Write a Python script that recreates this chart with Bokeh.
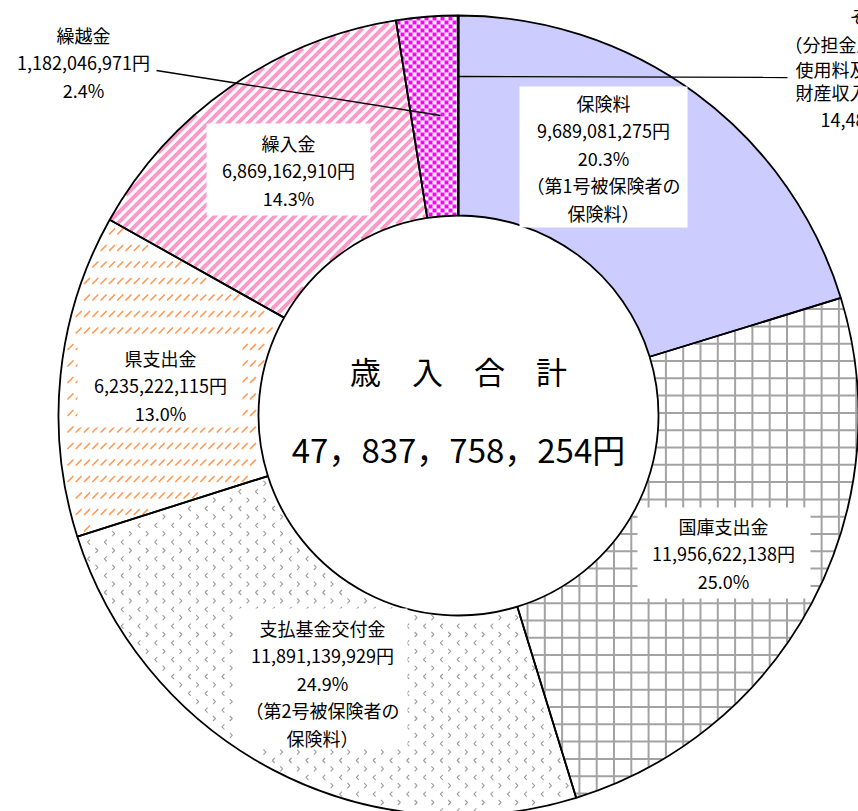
import numpy as np
from bokeh.plotting import figure
from bokeh.models import ColumnDataSource, Range1d
from bokeh.core.properties import value
from bokeh.embed import file_html
from bokeh.resources import INLINE

# ---------------- data ----------------
categories = ["保険料", "国庫支出金", "支払基金交付金", "県支出金", "繰入金", "繰越金", "その他"]
amounts = [9689081275, 11956622138, 11891139929, 6235222115, 6869162910, 1182046971, 14482916]
percent_labels = ["20.3%", "25.0%", "24.9%", "13.0%", "14.3%", "2.4%", "0.0%"]
notes = [["（第1号被保険者の", "保険料）"], [], ["（第2号被保険者の", "保険料）"], [], [], [], []]
other_detail = ["（分担金及び負担金、", "使用料及び手数料、", "財産収入、諸収入）"]
title_label = "歳　入　合　計"
total_label = "47，837，758，254円"

# ---------------- layout / style ----------------
W, H = 858, 811
CX, CY = 458, 415          # pixel centre of ring (y measured downwards)
R_IN, R_OUT = 200, 400
FONT = value("Noto Sans CJK JP")
LABEL_SIZE = "18px"


def Y(py):
    return H - np.asarray(py, dtype=float)


fill_colors = ["#CCCCFF", "white", "white", "white", "white", "white", "white"]

fracs = np.array(amounts, dtype=float) / float(sum(amounts))
cum = np.concatenate([[0.0], np.cumsum(fracs)])
start_ang = np.pi / 2 - 2 * np.pi * cum[:-1]
end_ang = np.pi / 2 - 2 * np.pi * cum[1:]


# ---------------- helpers for pattern fills (pixel space) ----------------
def inside_mask(i, px, py, margin=0.0):
    px = np.asarray(px, float)
    py = np.asarray(py, float)
    dx = px - CX
    dy = CY - py
    r = np.hypot(dx, dy)
    a = np.mod(np.arctan2(dx, dy), 2 * np.pi)
    a0, a1 = 2 * np.pi * cum[i], 2 * np.pi * cum[i + 1]
    am = margin / np.maximum(r, 1.0)
    return (r >= R_IN + margin) & (r <= R_OUT - margin) & (a >= a0 + am) & (a <= a1 - am)


def clip_line(i, p0, p1, margin=0.6, step=0.3):
    L = np.hypot(p1[0] - p0[0], p1[1] - p0[1])
    n = max(int(L / step), 2)
    t = np.linspace(0, 1, n)
    xs = p0[0] + t * (p1[0] - p0[0])
    ys = p0[1] + t * (p1[1] - p0[1])
    m = inside_mask(i, xs, ys, margin)
    mm = np.concatenate([[False], m, [False]]).astype(int)
    d = np.diff(mm)
    s = np.where(d == 1)[0]
    e = np.where(d == -1)[0] - 1
    return [((xs[a], ys[a]), (xs[b], ys[b])) for a, b in zip(s, e) if b > a]


def clip_poly(poly, f):
    out = []
    n = len(poly)
    for k in range(n):
        cur, prev = poly[k], poly[k - 1]
        fc, fp = f(cur), f(prev)
        if fc >= 0:
            if fp < 0:
                t = fp / (fp - fc)
                out.append((prev[0] + t * (cur[0] - prev[0]), prev[1] + t * (cur[1] - prev[1])))
            out.append(cur)
        elif fp >= 0:
            t = fp / (fp - fc)
            out.append((prev[0] + t * (cur[0] - prev[0]), prev[1] + t * (cur[1] - prev[1])))
    return out


def wedge_clip_square(i, x0, y0, size):
    th0, th1 = 2 * np.pi * cum[i], 2 * np.pi * cum[i + 1]
    d0 = (np.sin(th0), -np.cos(th0))
    d1 = (np.sin(th1), -np.cos(th1))
    cx, cy = x0 + size / 2, y0 + size / 2
    rr = np.hypot(cx - CX, cy - CY)
    nx, ny = (cx - CX) / rr, (cy - CY) / rr
    fs = [
        lambda p: d0[0] * (p[1] - CY) - d0[1] * (p[0] - CX),
        lambda p: -(d1[0] * (p[1] - CY) - d1[1] * (p[0] - CX)),
        lambda p: R_OUT - ((p[0] - CX) * nx + (p[1] - CY) * ny),
        lambda p: ((p[0] - CX) * nx + (p[1] - CY) * ny) - R_IN,
    ]
    poly = [(x0, y0), (x0 + size, y0), (x0 + size, y0 + size), (x0, y0 + size)]
    for f in fs:
        poly = clip_poly(poly, f)
        if len(poly) < 3:
            return None
    return poly


p = figure(width=W, height=H, output_backend="svg", toolbar_location=None,
           x_range=Range1d(0, W), y_range=Range1d(0, H), min_border=0,
           background_fill_color="white", border_fill_color="white")
p.axis.visible = False
p.grid.visible = False
p.outline_line_color = None

src = ColumnDataSource(dict(
    x=[CX] * len(amounts), y=list(Y([CY] * len(amounts))),
    start=start_ang, end=end_ang, fill=fill_colors,
))

# wedge fills
p.annular_wedge(x="x", y="y", inner_radius=R_IN, outer_radius=R_OUT,
                start_angle="start", end_angle="end", direction="clock",
                fill_color="fill", line_color=None, source=src)

idx = {c: k for k, c in enumerate(categories)}

# --- 国庫支出金: grey grid
gi = idx["国庫支出金"]
gx0, gy0 = [], []
gx1, gy1 = [], []
for vx in np.arange(527 - 17.3 * 30, W + 20, 17.3):
    for a, b in clip_line(gi, (vx, 0), (vx, H)):
        gx0.append(a[0]); gy0.append(a[1]); gx1.append(b[0]); gy1.append(b[1])
for hy in np.arange(620 - 17.3 * 40, H + 20, 17.3):
    for a, b in clip_line(gi, (0, hy), (W, hy)):
        gx0.append(a[0]); gy0.append(a[1]); gx1.append(b[0]); gy1.append(b[1])
p.segment(x0=gx0, y0=list(Y(gy0)), x1=gx1, y1=list(Y(gy1)),
          line_color="#A3A3A3", line_width=2)

# --- 繰入金: pink diagonal stripes
si = idx["繰入金"]
sx0, sy0, sx1, sy1 = [], [], [], []
for c in np.arange(0, 1400, 10.0):
    for a, b in clip_line(si, (c - H, H), (c, 0), margin=1.0):
        sx0.append(a[0]); sy0.append(a[1]); sx1.append(b[0]); sy1.append(b[1])
p.segment(x0=sx0, y0=list(Y(sy0)), x1=sx1, y1=list(Y(sy1)),
          line_color="#FF99CC", line_width=4.0)

# --- 繰越金: magenta checkerboard
ci = idx["繰越金"]
cxs, cys = [], []
for gx in range(360, 470, 4):
    for gy in range(0, 230, 4):
        if ((gx // 4) + (gy // 4)) % 2:
            continue
        if not inside_mask(ci, gx + 2, gy + 2, -4):
            continue
        poly = wedge_clip_square(ci, gx, gy, 4)
        if poly is None:
            continue
        cxs.append([q[0] for q in poly])
        cys.append(list(Y([q[1] for q in poly])))
p.patches(xs=cxs, ys=cys, fill_color="#FF00FF", line_color=None)

# --- 県支出金: orange short diagonal dashes
oi = idx["県支出金"]
oxs, oys = [], []
for ty in np.arange(0, H, 16.5):
    for tx in np.arange(0, W, 8.3):
        x0, y0, x1, y1 = tx + 1, ty + 2.5, tx + 6, ty - 2.5
        if inside_mask(oi, [x0, x1], [y0, y1], 1.2).all():
            oxs.append([x0, x1]); oys.append(list(Y([y0, y1])))
p.multi_line(xs=oxs, ys=oys, line_color="#FF9A55", line_width=1.7, line_cap="round")

# --- 支払基金交付金: small grey chevrons
vi = idx["支払基金交付金"]
vxs, vys = [], []
for ty in np.arange(0, H, 16.8):
    for tx in np.arange(0, W, 16.8):
        for (bx, by, sgn) in ((tx + 4, ty + 4, -1), (tx + 12.4, ty + 12.4, 1)):
            pts_x = [bx - sgn * 1.5, bx + sgn * 1.0, bx - sgn * 1.5]
            pts_y = [by - 2.5, by, by + 2.5]
            if inside_mask(vi, pts_x, pts_y, 1.2).all():
                vxs.append(pts_x); vys.append(list(Y(pts_y)))
p.multi_line(xs=vxs, ys=vys, line_color="#9C9C9C", line_width=1.1)

# wedge outlines
p.annular_wedge(x="x", y="y", inner_radius=R_IN, outer_radius=R_OUT,
                start_angle="start", end_angle="end", direction="clock",
                fill_color=None, line_color="black", line_width=1.8, source=src)

# label boxes (pixel: left, right, top, bottom)
boxes = {
    "保険料": (519, 687, 86, 227),
    "国庫支出金": (637, 810, 507, 598),
    "支払基金交付金": (237, 407, 608, 747),
    "県支出金": (77, 242, 340, 427),
    "繰入金": (206, 370, 123, 215),
}
bl, br, bt, bb = zip(*boxes.values())
p.quad(left=list(bl), right=list(br), top=list(Y(bt)), bottom=list(Y(bb)),
       fill_color="white", line_color=None)

# label anchor (pixel centre x, first line y)
anchors = {
    "保険料": (603, 102),
    "国庫支出金": (723, 525),
    "支払基金交付金": (322, 627),
    "県支出金": (160, 357),
    "繰入金": (288, 142),
    "繰越金": (83, 34),
}
STEP = 27.5
tx_, ty_, tt_ = [], [], []
for i, cat in enumerate(categories):
    if cat not in anchors:
        continue
    ax, ay = anchors[cat]
    lines = [cat, f"{amounts[i]:,}円", percent_labels[i]] + notes[i]
    for k, ln in enumerate(lines):
        tx_.append(ax)
        ty_.append(float(Y(ay + k * STEP)))
        tt_.append(ln)
p.text(x=tx_, y=ty_, text=tt_, text_align="center", text_baseline="middle",
       text_font=FONT, text_font_size=LABEL_SIZE, text_color="black")

# "その他" label, running off the right edge as in the original
oth = idx["その他"]
o_lines = [categories[oth]] + other_detail + [f"{amounts[oth]:,}円", percent_labels[oth]]
o_x = [876, 874, 876, 876, 874, 882]
o_y = [15, 43, 68, 91, 118, 146]
p.text(x=o_x, y=list(Y(o_y)), text=o_lines, text_align="center",
       text_baseline="middle", text_font=FONT, text_font_size=LABEL_SIZE, text_color="black")

# leader lines
p.segment(x0=[156, 458], y0=list(Y([70, 76])), x1=[440, 787], y1=list(Y([115, 77])),
          line_color="black", line_width=1.3)

# centre texts
p.text(x=[CX, CX], y=list(Y([370, 448])), text=[title_label, total_label],
       text_align="center", text_baseline="middle", text_font=FONT,
       text_font_size=["31px", "33px"], text_color="black")

open("out.html", "w").write(file_html(p, INLINE))
